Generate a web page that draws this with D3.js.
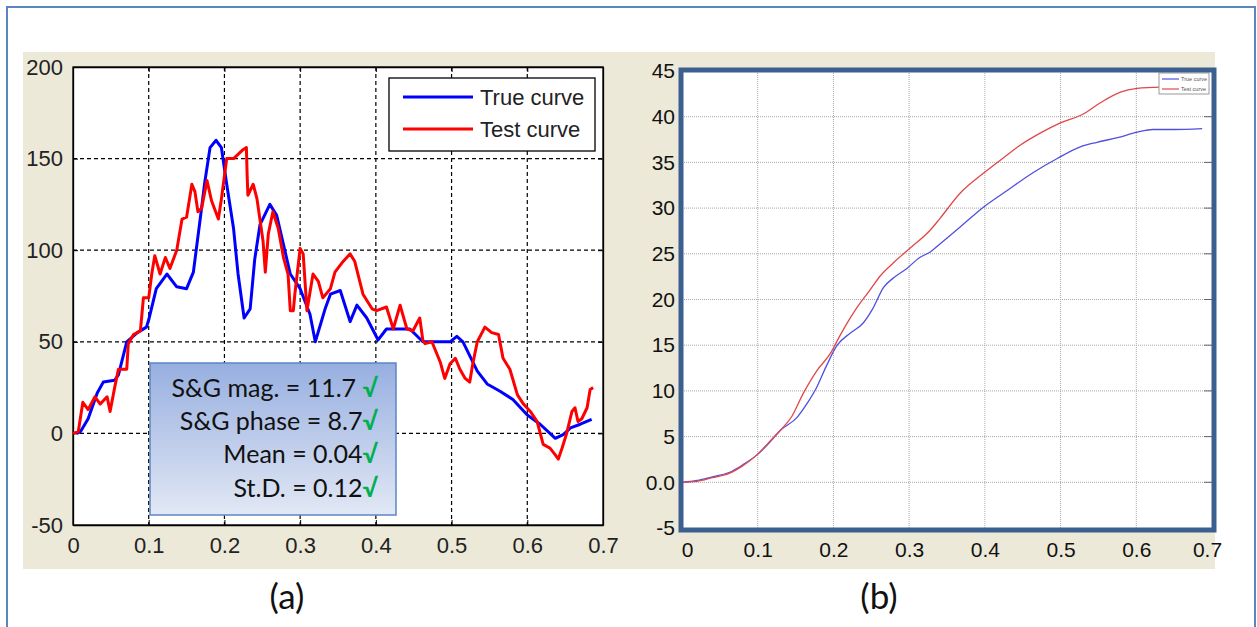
<!DOCTYPE html>
<html><head><meta charset="utf-8">
<script src="https://cdn.jsdelivr.net/npm/d3@7"></script>
<style>body{margin:0;background:#fff;}svg{display:block;}</style>
</head><body>
<svg id="c" width="1257" height="627"></svg>
<script>
// ---------- Panel (a) data ----------
const aXTicks = [0,0.1,0.2,0.3,0.4,0.5,0.6,0.7];
const aXTickLabels = ["0","0.1","0.2","0.3","0.4","0.5","0.6","0.7"];
const aYTicks = [-50,0,50,100,150,200];
const aYTickLabels = ["-50","0","50","100","150","200"];
const aTrueX = [0.005,0.01,0.02,0.032,0.04,0.055,0.06,0.071,0.085,0.097,0.1,0.11,0.124,0.137,0.15,0.159,0.163,0.168,0.174,0.181,0.189,0.196,0.203,0.212,0.218,0.226,0.234,0.24,0.247,0.26,0.269,0.278,0.287,0.3,0.313,0.32,0.333,0.34,0.353,0.366,0.375,0.388,0.403,0.414,0.445,0.462,0.498,0.507,0.515,0.534,0.547,0.564,0.581,0.6,0.617,0.637,0.648,0.657,0.67,0.685];
const aTrueY = [0,1,8,22,28,29,32,50,55,58,62,79,87,80,79,88,101,117,137,156,160,156,136,112,87,63,68,95,114,125,119,103,87,79,65,50,68,76,78,61,70,63,51,57,57,50,50,53,50,34,27,23,18.5,10,5,-2.7,-0.5,3,5,7.6];
const aTestX = [0,0.007,0.013,0.02,0.029,0.036,0.045,0.049,0.055,0.06,0.071,0.073,0.08,0.089,0.093,0.1,0.104,0.108,0.115,0.122,0.128,0.137,0.144,0.15,0.157,0.161,0.165,0.17,0.177,0.183,0.192,0.196,0.203,0.212,0.225,0.229,0.23,0.231,0.238,0.243,0.251,0.254,0.258,0.264,0.271,0.278,0.284,0.287,0.291,0.293,0.3,0.304,0.309,0.317,0.324,0.33,0.34,0.346,0.355,0.366,0.372,0.383,0.395,0.401,0.414,0.423,0.432,0.441,0.449,0.458,0.462,0.465,0.474,0.485,0.491,0.498,0.505,0.511,0.518,0.524,0.528,0.534,0.544,0.553,0.562,0.568,0.577,0.587,0.595,0.604,0.613,0.621,0.63,0.637,0.641,0.646,0.652,0.659,0.663,0.667,0.672,0.679,0.683,0.687];
const aTestY = [0,1,17,13,20,16,20,12,25,35,35,49,54,56,74,74,87,97,87,96,90,100,117,118,136,132,121,123,138,127,117,128,150,150,155,156,141,130,136,128,105,88,109,121,112,96,87,67,67,76,101,98,67,87,83,74,79,88,93,98,94,76,68,67,69,57,70,57,56,63,51,49,50,39,30,38,41,35,30,28,38,50,58,55,54,41,35,21,16,12,6.5,-6,-8,-11.7,-14,-8,0,12,14,6.5,8,14,24,25];
const aLegend = ["True curve","Test curve"];
const statLabels = ["S&G mag. = 11.7 ","S&G phase = 8.7","Mean = 0.04","St.D. = 0.12"];
const checkMark = "\u221A";

// ---------- Panel (b) data ----------
const bXTicks = [0,0.1,0.2,0.3,0.4,0.5,0.6,0.7];
const bXTickLabels = ["0","0.1","0.2","0.3","0.4","0.5","0.6","0.7"];
const bYTicks = [-5,0,5,10,15,20,25,30,35,40,45];
const bYTickLabels = ["-5","0.0","5","10","15","20","25","30","35","40","45"];
const bTrueX = [0,0.02,0.04,0.063,0.08,0.099,0.115,0.13,0.152,0.165,0.178,0.19,0.205,0.222,0.239,0.252,0.266,0.28,0.297,0.314,0.328,0.341,0.367,0.398,0.429,0.464,0.495,0.526,0.548,0.575,0.601,0.622,0.649,0.687];
const bTrueY = [0,0.2,0.6,1.1,1.9,3,4.3,5.7,7.1,8.6,10.4,12.6,15,16.3,17.4,19,21.3,22.4,23.4,24.6,25.2,26.1,27.9,30.1,31.9,33.9,35.4,36.7,37.2,37.7,38.3,38.6,38.6,38.7];
const bTestX = [0,0.02,0.04,0.063,0.08,0.099,0.115,0.13,0.145,0.16,0.178,0.196,0.209,0.231,0.248,0.262,0.279,0.301,0.328,0.341,0.367,0.398,0.42,0.447,0.473,0.499,0.53,0.552,0.579,0.601,0.622,0.645,0.687];
const bTestY = [0,0.1,0.5,1,1.8,3,4.4,5.7,7.2,9.7,12.2,14.1,16.1,19.1,21,22.6,24,25.6,27.6,28.9,31.6,33.8,35.2,36.9,38.2,39.3,40.3,41.5,42.7,43.1,43.2,43.3,43.3];
const bLegend = ["True curve","Test curve"];
const panelLabels = ["(a)","(b)"];

const svg = d3.select("#c");

// outer frame
svg.append("rect").attr("x",7).attr("y",7).attr("width",1248).attr("height",640)
  .attr("fill","none").attr("stroke","#5a86c0").attr("stroke-width",2);
// beige background
svg.append("rect").attr("x",23).attr("y",52).attr("width",1192).attr("height",517).attr("fill","#ece9d8");

// ================= Panel (a) =================
const ax = d3.scaleLinear().domain([0,0.7]).range([73,603]);
const ay = d3.scaleLinear().domain([-50,200]).range([525,67]);
const ga = svg.append("g");
ga.append("rect").attr("x",73).attr("y",67).attr("width",530).attr("height",458).attr("fill","#fff");
// grid
ga.selectAll(".gx").data(aXTicks.slice(1,-1)).join("line")
  .attr("x1",d=>ax(d)).attr("x2",d=>ax(d)).attr("y1",67).attr("y2",525)
  .attr("stroke","#000").attr("stroke-width",1.2).attr("stroke-dasharray","4,3");
ga.selectAll(".gy").data(aYTicks.slice(1,-1)).join("line")
  .attr("y1",d=>ay(d)).attr("y2",d=>ay(d)).attr("x1",73).attr("x2",603)
  .attr("stroke","#000").attr("stroke-width",1.2).attr("stroke-dasharray","4,3");
// axes (ticks inward)
const axB = ga.append("g").attr("transform","translate(0,525)")
  .call(d3.axisBottom(ax).tickValues(aXTicks).tickFormat((d,i)=>aXTickLabels[i]).tickSizeInner(-5).tickSizeOuter(0).tickPadding(12));
const axL = ga.append("g").attr("transform","translate(73,0)")
  .call(d3.axisLeft(ay).tickValues(aYTicks).tickFormat((d,i)=>aYTickLabels[i]).tickSizeInner(-5).tickSizeOuter(0).tickPadding(10));
ga.append("g").attr("transform","translate(0,67)")
  .call(d3.axisTop(ax).tickValues(aXTicks).tickFormat("").tickSizeInner(-5).tickSizeOuter(0));
ga.append("g").attr("transform","translate(603,0)")
  .call(d3.axisRight(ay).tickValues(aYTicks).tickFormat("").tickSizeInner(-5).tickSizeOuter(0));
ga.selectAll(".domain").attr("stroke","#000").attr("stroke-width",1.3);
[axB,axL].forEach(g=>g.selectAll("text").attr("font-family","Liberation Sans, Arial, sans-serif")
  .attr("font-size",22).attr("fill","#222"));
axB.selectAll("text").attr("dy","0.72em");
ga.append("rect").attr("x",73).attr("y",67).attr("width",530).attr("height",458)
  .attr("fill","none").attr("stroke","#000").attr("stroke-width",1.3);

// curves
const lineA = d3.line().x(d=>ax(d[0])).y(d=>ay(d[1]));
ga.append("path").datum(aTrueX.map((x,i)=>[x,aTrueY[i]]))
  .attr("d",lineA).attr("fill","none").attr("stroke","#0000ff").attr("stroke-width",3).attr("stroke-linejoin","round");
ga.append("path").datum(aTestX.map((x,i)=>[x,aTestY[i]]))
  .attr("d",lineA).attr("fill","none").attr("stroke","#ff0000").attr("stroke-width",3).attr("stroke-linejoin","round");

// legend (a)
const la = ga.append("g");
la.append("rect").attr("x",389).attr("y",78).attr("width",206).attr("height",73)
  .attr("fill","#fff").attr("stroke","#000").attr("stroke-width",1.3);
const aCols = ["#0000ff","#ff0000"];
aLegend.forEach((t,i)=>{
  const yy = 97 + i*32;
  la.append("line").attr("x1",403).attr("x2",473).attr("y1",yy).attr("y2",yy)
    .attr("stroke",aCols[i]).attr("stroke-width",3);
  la.append("text").attr("x",480).attr("y",yy+8).text(t)
    .attr("font-family","Liberation Sans, Arial, sans-serif").attr("font-size",22).attr("fill","#222");
});

// stats box
const defs = svg.append("defs");
const grad = defs.append("linearGradient").attr("id","gbox").attr("x1",0).attr("y1",0).attr("x2",0).attr("y2",1);
grad.append("stop").attr("offset","0%").attr("stop-color","#97afe0");
grad.append("stop").attr("offset","100%").attr("stop-color","#e2e8f5");
ga.append("rect").attr("x",150).attr("y",363).attr("width",246).attr("height",152)
  .attr("fill","url(#gbox)").attr("stroke","#5b87c5").attr("stroke-width",1.5);
const statY = [397,430,463,497];
statLabels.forEach((t,i)=>{
  const tx = ga.append("text").attr("x",378).attr("y",statY[i]).attr("text-anchor","end")
    .attr("font-family","Lato, 'Open Sans', sans-serif").attr("font-size",25).attr("fill","#111");
  tx.append("tspan").text(t);
  tx.append("tspan").text(checkMark).attr("fill","#00b050").attr("font-weight","bold");
});

// ================= Panel (b) =================
const bx = d3.scaleLinear().domain([0,0.7]).range([682,1212]);
const by = d3.scaleLinear().domain([-5,45]).range([528,71]);
const gb = svg.append("g");
gb.append("rect").attr("x",681).attr("y",70).attr("width",533).attr("height",460).attr("fill","#fff");
gb.selectAll(".bgx").data(bXTicks.slice(1,-1)).join("line")
  .attr("x1",d=>bx(d)).attr("x2",d=>bx(d)).attr("y1",71).attr("y2",528)
  .attr("stroke","#a8a8a8").attr("stroke-width",1).attr("stroke-dasharray","1,1");
gb.selectAll(".bgy").data(bYTicks.slice(1,-1)).join("line")
  .attr("y1",d=>by(d)).attr("y2",d=>by(d)).attr("x1",682).attr("x2",1212)
  .attr("stroke","#a8a8a8").attr("stroke-width",1).attr("stroke-dasharray","1,1");
// right side small ticks
gb.selectAll(".brt").data(bYTicks.slice(1,-1)).join("line")
  .attr("y1",d=>by(d)).attr("y2",d=>by(d)).attr("x1",1204).attr("x2",1212)
  .attr("stroke","#666").attr("stroke-width",1);
const bAxB = gb.append("g").attr("transform","translate(0,530)")
  .call(d3.axisBottom(bx).tickValues(bXTicks).tickFormat((d,i)=>bXTickLabels[i]).tickSize(0).tickPadding(12));
const bAxL = gb.append("g").attr("transform","translate(681,0)")
  .call(d3.axisLeft(by).tickValues(bYTicks).tickFormat((d,i)=>bYTickLabels[i]).tickSize(0).tickPadding(6));
gb.selectAll(".domain").remove();
[bAxB,bAxL].forEach(g=>g.selectAll("text").attr("font-family","Liberation Sans, Arial, sans-serif")
  .attr("font-size",21).attr("fill","#111"));
bAxB.selectAll("text").attr("dy","0.72em");
bAxB.selectAll(".tick").filter((d,i)=>i===0).select("text").attr("dx",5);
bAxB.selectAll(".tick").filter((d,i)=>i===7).select("text").attr("dx",-5);

const lineB = d3.line().x(d=>bx(d[0])).y(d=>by(d[1])).curve(d3.curveMonotoneX);
gb.append("path").datum(bTrueX.map((x,i)=>[x,bTrueY[i]]))
  .attr("d",lineB).attr("fill","none").attr("stroke","#5050e0").attr("stroke-width",1.3);
gb.append("path").datum(bTestX.map((x,i)=>[x,bTestY[i]]))
  .attr("d",lineB).attr("fill","none").attr("stroke","#e04848").attr("stroke-width",1.3);

// legend (b)
const lb = gb.append("g");
lb.append("rect").attr("x",1159).attr("y",73).attr("width",50).attr("height",21)
  .attr("fill","#fff").attr("stroke","#999").attr("stroke-width",1);
const bCols = ["#5050e0","#e04848"];
bLegend.forEach((t,i)=>{
  const yy = 79 + i*10;
  lb.append("line").attr("x1",1162).attr("x2",1179).attr("y1",yy).attr("y2",yy)
    .attr("stroke",bCols[i]).attr("stroke-width",1.2);
  lb.append("text").attr("x",1181).attr("y",yy+2).text(t)
    .attr("font-family","Liberation Sans, Arial, sans-serif").attr("font-size",5.5).attr("fill","#555");
});
// frame (b)
gb.append("rect").attr("x",681).attr("y",70).attr("width",533).attr("height",460)
  .attr("fill","none").attr("stroke","#3b5f8e").attr("stroke-width",5);

// panel labels
const pl = [287,879];
panelLabels.forEach((t,i)=>{
  svg.append("text").attr("x",pl[i]).attr("y",609).attr("text-anchor","middle").text(t)
    .attr("font-family","Lato, 'Open Sans', sans-serif").attr("font-size",35).attr("fill","#111");
});
</script>
</body></html>
